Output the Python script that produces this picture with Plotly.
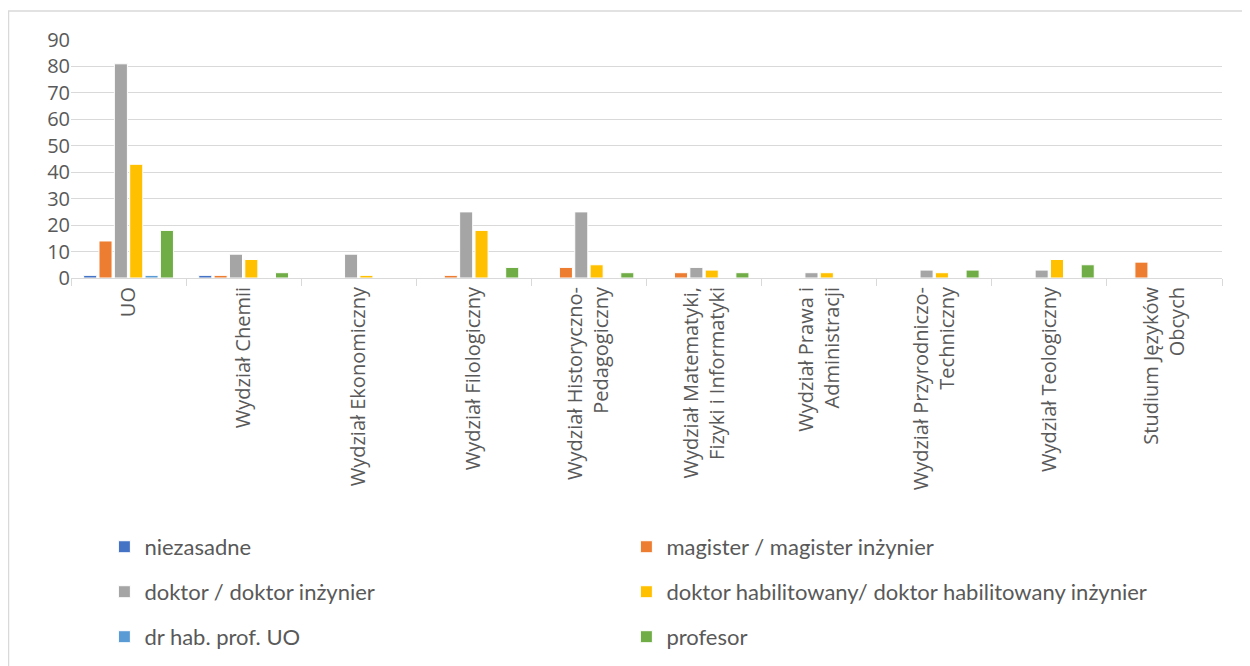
import plotly.graph_objects as go

categories = [
    "UO",
    "Wydział Chemii",
    "Wydział Ekonomiczny",
    "Wydział Filologiczny",
    "Wydział Historyczno-<br>Pedagogiczny",
    "Wydział Matematyki,<br>Fizyki i Informatyki",
    "Wydział Prawa i<br>Administracji",
    "Wydział Przyrodniczo-<br>Techniczny",
    "Wydział Teologiczny",
    "Studium Języków<br>Obcych",
]

niezasadne = [1, 1, 0, 0, 0, 0, 0, 0, 0, 0]
magister = [14, 1, 0, 1, 4, 2, 0, 0, 0, 6]
doktor = [81, 9, 9, 25, 25, 4, 2, 3, 3, 0]
dr_hab = [43, 7, 1, 18, 5, 3, 2, 2, 7, 0]
dr_hab_prof_uo = [1, 0, 0, 0, 0, 0, 0, 0, 0, 0]
profesor = [18, 2, 0, 4, 2, 2, 0, 3, 5, 0]

series = [
    ("niezasadne", niezasadne, "#4472C4", "legend"),
    ("magister / magister inżynier", magister, "#ED7D31", "legend"),
    ("doktor / doktor inżynier", doktor, "#A5A5A5", "legend2"),
    ("doktor habilitowany/ doktor habilitowany inżynier", dr_hab, "#FFC000", "legend2"),
    ("dr hab. prof. UO", dr_hab_prof_uo, "#5B9BD5", "legend3"),
    ("profesor", profesor, "#70AD47", "legend3"),
]

fig = go.Figure()
for name, vals, color, lg in series:
    fig.add_trace(go.Bar(
        x=categories, y=vals, name=name,
        marker=dict(color=color, line=dict(color="white", width=1)),
        legend=lg,
    ))

TEXT = "#595959"
GRID = "#d9d9d9"

def leg(y):
    return dict(
        orientation="h", x=0.029, xanchor="left", y=y, yanchor="middle",
        entrywidth=477, entrywidthmode="pixels",
        font=dict(family="Lato", size=22, color=TEXT),
        bgcolor="rgba(0,0,0,0)", traceorder="normal",
    )

fig.update_layout(
    width=1242, height=658,
    margin=dict(l=63, r=28, t=32, b=388, autoexpand=False),
    paper_bgcolor="white", plot_bgcolor="white",
    barmode="group", bargap=0.2, bargroupgap=0.15,
    font=dict(family="Open Sans", size=20, color=TEXT),
    legend=leg(-1.130),
    legend2=leg(-1.319),
    legend3=leg(-1.508),
    showlegend=True,
    xaxis=dict(
        type="category", tickangle=-90, automargin=False,
        showline=True, linecolor=GRID, linewidth=1,
        ticks="outside", tickson="boundaries", ticklen=7, tickcolor=GRID,
        showgrid=False, tickfont=dict(family="Open Sans", size=20, color=TEXT),
    ),
    yaxis=dict(
        range=[0, 90], dtick=10, automargin=False,
        showgrid=True, gridcolor=GRID, gridwidth=1, zeroline=False,
        showline=False, ticks="", tickfont=dict(family="Open Sans", size=20, color=TEXT),
    ),
    shapes=[dict(
        type="rect", xref="paper", yref="paper",
        x0=-0.0543, x1=1.05, y0=-2.0, y1=1.122,
        line=dict(color=GRID, width=1.5), fillcolor="rgba(0,0,0,0)", layer="below",
    )],
)

fig.write_html("out.html")
